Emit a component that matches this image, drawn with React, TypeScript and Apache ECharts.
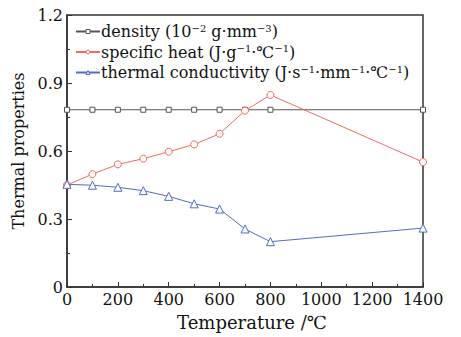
import React, { useEffect, useRef } from "react";
import * as echarts from "echarts";

const temperatures = [0, 100, 200, 300, 400, 500, 600, 700, 800, 1400];
const density = [0.782, 0.782, 0.782, 0.782, 0.782, 0.782, 0.782, 0.782, 0.782, 0.782];
const specificHeat = [0.45, 0.498, 0.541, 0.566, 0.597, 0.629, 0.676, 0.778, 0.847, 0.551];
const conductivity = [0.453, 0.449, 0.44, 0.425, 0.4, 0.367, 0.344, 0.256, 0.2, 0.26];
const xTicks = [0, 200, 400, 600, 800, 1000, 1200, 1400];
const yTicks = [0, 0.3, 0.6, 0.9, 1.2];

const seriesNames = ["density", "specific heat", "thermal conductivity"];
const seriesColors = ["#555555", "#f46a5a", "#4f6cc8"];
const legendLabels: Record<string, string> = {
  density: "density (10{sup|−2} g·mm{sup|−3})",
  "specific heat": "specific heat (J·g{sup|−1}·℃{sup|−1})",
  "thermal conductivity": "thermal conductivity (J·s{sup|−1}·mm{sup|−1}·℃{sup|−1})",
};

const FONT = "'DejaVu Serif', 'Liberation Serif', serif";

export default function App() {
  const ref = useRef<HTMLDivElement>(null);
  useEffect(() => {
    if (!ref.current) return;
    const chart = echarts.init(ref.current, undefined, { renderer: "svg" });
    const pair = (ys: number[]) => temperatures.map((t, i) => [t, ys[i]]);
    chart.setOption({
      animation: false,
      backgroundColor: "#fff",
      grid: {
        left: 67,
        right: 38,
        top: 15,
        bottom: 50,
        show: true,
        borderColor: "#333",
        borderWidth: 1.5,
      },
      legend: {
        orient: "vertical",
        left: 70,
        top: 18,
        itemGap: 4,
        itemWidth: 24,
        itemHeight: 5,
        data: seriesNames.map((name, i) => ({
          name,
          itemStyle: { color: "#fff", borderColor: seriesColors[i], borderWidth: 1 },
        })),
        formatter: (name: string) => legendLabels[name],
        textStyle: {
          fontFamily: FONT,
          fontSize: 16,
          color: "#111",
          padding: [0, 0, 0, -4],
          rich: {
            sup: {
              fontFamily: FONT,
              fontSize: 10,
              verticalAlign: "top",
              color: "#111",
              padding: [0, 0, 7, 0],
            },
          },
        },
      },
      xAxis: {
        type: "value",
        min: 0,
        max: 1400,
        interval: 200,
        name: "Temperature /℃",
        nameLocation: "middle",
        nameGap: 26,
        nameTextStyle: { fontFamily: FONT, fontSize: 18, color: "#111", padding: [0, 0, 0, 14] },
        axisLine: { show: true, lineStyle: { color: "#333", width: 1.5 } },
        axisTick: { show: true, inside: true, length: 5, lineStyle: { color: "#333" } },
        minorTick: { show: true, splitNumber: 2, length: 3, lineStyle: { color: "#333" } },
        splitLine: { show: false },
        axisLabel: {
          fontFamily: FONT,
          fontSize: 16,
          color: "#111",
          margin: 4,
          formatter: (v: number) => (xTicks.includes(v) ? String(v) : ""),
        },
      },
      yAxis: {
        type: "value",
        min: 0,
        max: 1.2,
        interval: 0.3,
        name: "Thermal properties",
        nameLocation: "middle",
        nameGap: 37,
        nameTextStyle: { fontFamily: FONT, fontSize: 16, color: "#111" },
        axisLine: { show: true, lineStyle: { color: "#333", width: 1.5 } },
        axisTick: { show: true, inside: true, length: 5, lineStyle: { color: "#333" } },
        minorTick: { show: true, splitNumber: 2, length: 3, lineStyle: { color: "#333" } },
        splitLine: { show: false },
        axisLabel: {
          fontFamily: FONT,
          fontSize: 16,
          color: "#111",
          margin: 4,
          formatter: (v: number) => {
            const t = yTicks.find((y) => Math.abs(y - v) < 1e-6);
            return t === undefined ? "" : t === 0 ? "0" : t.toFixed(1);
          },
        },
      },
      series: [
        {
          name: "density",
          type: "line",
          data: pair(density),
          symbol: "rect",
          symbolSize: 5,
          color: seriesColors[0],
          lineStyle: { color: seriesColors[0], width: 1 },
          itemStyle: { color: "#fff", borderColor: seriesColors[0], borderWidth: 1 },
          z: 3,
        },
        {
          name: "specific heat",
          type: "line",
          data: pair(specificHeat),
          symbol: "circle",
          symbolSize: 7,
          color: seriesColors[1],
          lineStyle: { color: seriesColors[1], width: 1 },
          itemStyle: { color: "#fff", borderColor: seriesColors[1], borderWidth: 1 },
          z: 4,
        },
        {
          name: "thermal conductivity",
          type: "line",
          data: pair(conductivity),
          symbol: "triangle",
          symbolSize: 8,
          color: seriesColors[2],
          lineStyle: { color: seriesColors[2], width: 1 },
          itemStyle: { color: "#fff", borderColor: seriesColors[2], borderWidth: 1 },
          z: 5,
        },
      ],
    });
    return () => chart.dispose();
  }, []);
  return (
    <div
      ref={ref}
      style={{ position: "absolute", left: 0, top: 0, width: 461, height: 337 }}
    />
  );
}
